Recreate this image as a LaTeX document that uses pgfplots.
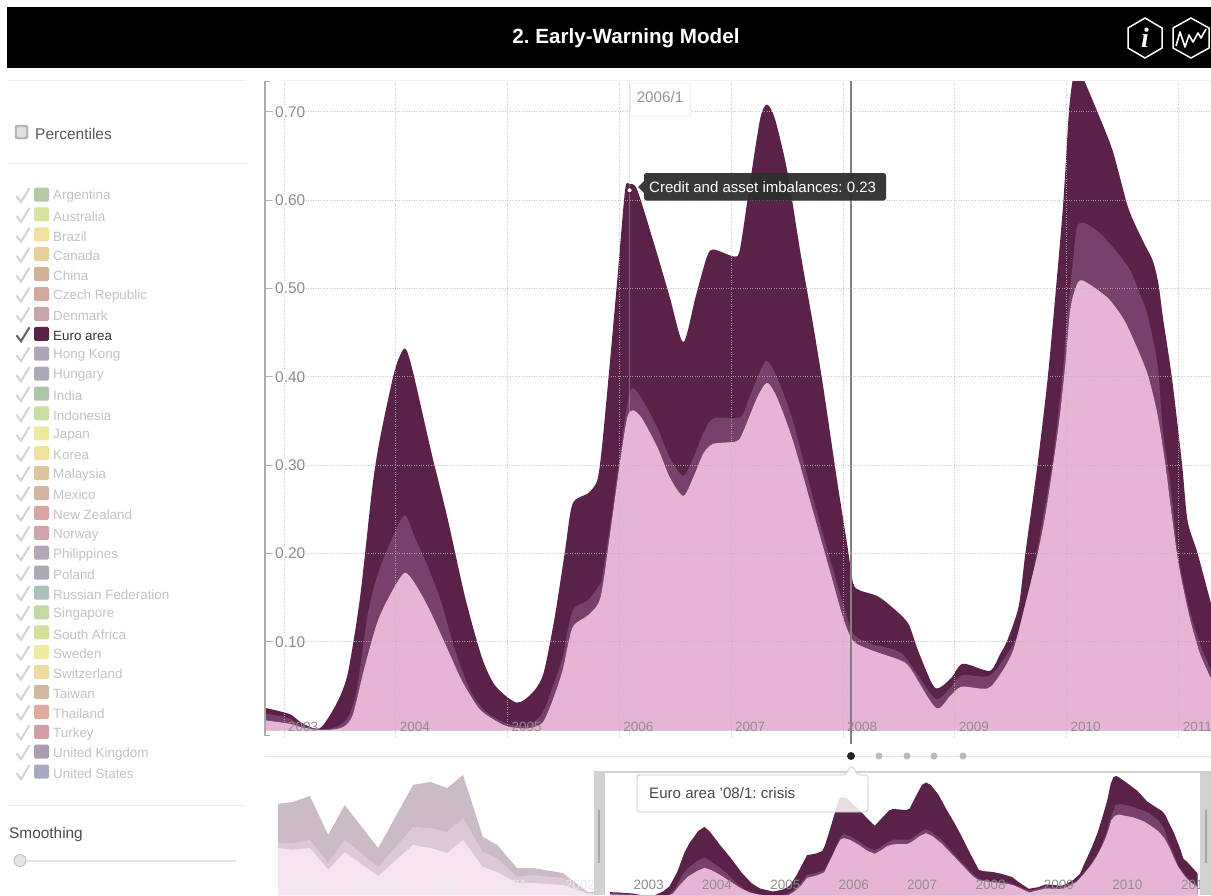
\documentclass[border=0pt]{standalone}
\usepackage{fontspec}
\setmainfont{Liberation Sans}
\newfontfamily\serifi{Liberation Serif}
\usepackage{pgfplots}
\usepackage{pgfplotstable}
\pgfplotsset{compat=1.18}
\definecolor{cDark}{HTML}{5A2248}
\definecolor{cMid}{HTML}{77416B}
\definecolor{cLight}{HTML}{E6B5D6}
\definecolor{fDark}{HTML}{CABBC7}
\definecolor{fMid}{HTML}{DACAD7}
\definecolor{fLight}{HTML}{F6E4F0}
\definecolor{cTick}{HTML}{8E8E8E}

\pgfplotstableread{
x y
2002.70 .027
2002.83 .025
2003.05 .018
2003.16 .008
2003.32 .002
2003.47 .030
2003.57 .064
2003.68 .150
2003.79 .275
2003.86 .331
2003.99 .407
2004.08 .432
2004.15 .407
2004.32 .313
2004.46 .241
2004.62 .150
2004.77 .082
2004.89 .050
2005.08 .031
2005.22 .042
2005.32 .064
2005.42 .127
2005.51 .200
2005.58 .256
2005.72 .268
2005.80 .282
2005.84 .316
2005.90 .396
2005.98 .509
2006.05 .611
2006.09 .618
2006.16 .611
2006.32 .546
2006.45 .490
2006.57 .439
2006.68 .490
2006.78 .535
2006.84 .544
2007.03 .536
2007.08 .546
2007.17 .622
2007.26 .693
2007.32 .708
2007.39 .692
2007.50 .633
2007.62 .539
2007.73 .460
2007.82 .390
2007.95 .279
2008.04 .207
2008.09 .166
2008.15 .158
2008.30 .152
2008.42 .141
2008.58 .121
2008.67 .090
2008.82 .048
2008.96 .058
2009.07 .075
2009.31 .067
2009.40 .085
2009.47 .102
2009.57 .140
2009.63 .200
2009.74 .302
2009.83 .399
2009.91 .509
2009.97 .599
2010.02 .701
2010.06 .741
2010.10 .749
2010.15 .737
2010.27 .701
2010.41 .656
2010.55 .591
2010.68 .554
2010.77 .531
2010.82 .505
2010.86 .467
2010.94 .399
2011.03 .302
2011.08 .237
2011.17 .200
2011.29 .143
}\darktop

\pgfplotstableread{
x y
2002.70 .021
2002.83 .019
2003.05 .013
2003.16 .005
2003.32 .001
2003.46 .003
2003.57 .014
2003.65 .045
2003.75 .132
2003.84 .177
2003.97 .218
2004.08 .243
2004.17 .218
2004.29 .184
2004.41 .143
2004.53 .090
2004.68 .041
2004.82 .019
2005.00 .007
2005.18 .005
2005.31 .019
2005.40 .048
2005.49 .082
2005.58 .135
2005.72 .147
2005.83 .166
2005.85 .177
2005.94 .252
2006.03 .336
2006.08 .376
2006.12 .387
2006.20 .375
2006.34 .342
2006.45 .308
2006.57 .288
2006.66 .308
2006.75 .336
2006.84 .353
2007.08 .354
2007.15 .373
2007.26 .407
2007.32 .418
2007.41 .399
2007.55 .350
2007.73 .263
2007.88 .195
2008.00 .143
2008.09 .109
2008.24 .098
2008.51 .088
2008.66 .064
2008.83 .035
2008.96 .048
2009.06 .062
2009.30 .061
2009.43 .079
2009.56 .107
2009.65 .143
2009.73 .200
2009.87 .302
2009.96 .399
2010.00 .464
2010.05 .524
2010.09 .569
2010.16 .574
2010.30 .562
2010.45 .541
2010.57 .520
2010.64 .498
2010.72 .471
2010.81 .415
2010.86 .339
2010.93 .275
2011.00 .195
2011.10 .135
2011.19 .098
2011.29 .067
}\midtop

\pgfplotstableread{
x y
2002.70 .013
2002.83 .011
2003.05 .007
2003.16 .003
2003.32 0
2003.46 .001
2003.55 .005
2003.62 .019
2003.72 .071
2003.84 .124
2003.97 .158
2004.08 .178
2004.17 .166
2004.29 .139
2004.44 .098
2004.59 .056
2004.74 .025
2004.86 .013
2005.00 .004
2005.18 .002
2005.31 .008
2005.40 .033
2005.49 .067
2005.58 .116
2005.72 .130
2005.83 .150
2005.92 .226
2006.01 .308
2006.07 .354
2006.12 .362
2006.20 .353
2006.34 .320
2006.45 .286
2006.57 .265
2006.66 .286
2006.75 .313
2006.84 .324
2007.05 .327
2007.11 .339
2007.23 .376
2007.32 .393
2007.41 .376
2007.55 .328
2007.73 .248
2007.88 .181
2008.00 .127
2008.09 .101
2008.24 .091
2008.51 .079
2008.60 .070
2008.83 .025
2008.96 .039
2009.06 .049
2009.29 .047
2009.40 .062
2009.52 .090
2009.63 .143
2009.74 .200
2009.81 .245
2009.88 .302
2009.94 .358
2009.99 .418
2010.03 .475
2010.08 .501
2010.14 .509
2010.36 .490
2010.50 .467
2010.59 .444
2010.72 .404
2010.81 .358
2010.88 .302
2010.93 .252
2011.00 .188
2011.10 .127
2011.19 .087
2011.29 .058
}\lighttop

\pgfplotstableread{
x d m l
1997.845 .575 .332 .301
1998.06 .587 .332 .289
1998.31 .624 .351 .301
1998.58 .382 .208 .165
1998.82 .568 .351 .276
1999.31 .301 .183 .127
1999.82 .693 .432 .320
2000.07 .711 .425 .301
2000.32 .674 .401 .270
2000.55 .755 .488 .351
2000.84 .370 .276 .183
2001.05 .320 .239 .152
2001.34 .177 .121 .084
2001.57 .177 .134 .084
2002.01 .146 .115 .071
2002.36 .030 .025 .020
2002.63 .025 .020 .012
}\history

\pgfplotsset{
  areafill/.style={draw=none,fill=#1},
}
\begin{document}
\frenchspacing
\begin{tikzpicture}
\path[use as bounding box,fill=white] (0pt,0pt) rectangle (1211pt,-895pt);

% MAIN CHART
\begin{axis}[
  at={(265pt,-736pt)},anchor=south west,
  scale only axis,width=946pt,height=655pt,
  xmin=2002.83,xmax=2011.29,ymin=-0.006793,ymax=0.734748,
  axis on top,
  axis x line*=bottom,axis y line*=left,
  x axis line style={draw=none,opacity=0},
  y axis line style={draw=black!33,line width=1.2pt},
  x tick style={draw=none},
  y tick style={draw=black!33,line width=.8pt},
  ytick align=inside,major tick length=7pt,
  xtick={2003,...,2011},
  xticklabels={2003,2004,2005,2006,2007,2008,2009,2010,2011},
  ytick={0.1,0.2,0.3,0.4,0.5,0.6,0.7},
  yticklabels={0.10,0.20,0.30,0.40,0.50,0.60,0.70},
  xticklabel style={font=\fontsize{13.5}{13.5}\selectfont,text=cTick,xshift=19pt,yshift=17pt},
  yticklabel style={anchor=west,xshift=9pt,font=\fontsize{15.5}{15.5}\selectfont,text=black!45,fill=white,inner sep=1pt},
  grid=major,
  major grid style={dotted,line width=.9pt,color=black!28,opacity=.75},
]
\addplot[areafill=cDark,smooth,tension=.45] table[x=x,y=y] {\darktop} \closedcycle;
\addplot[areafill=cMid,smooth,tension=.45] table[x=x,y=y] {\midtop} \closedcycle;
\addplot[areafill=cLight,smooth,tension=.45] table[x=x,y=y] {\lighttop} \closedcycle;
\addplot[black!25,line width=.5pt,opacity=.4,forget plot] coordinates {(2006.09,-0.0068) (2006.09,0.7347)};
\addplot[black!50,line width=1.1pt,forget plot] coordinates {(2008.07,-0.0068) (2008.07,0.7347)};
\addplot[only marks,mark=*,mark size=2.8pt,mark options={fill=white,draw=cDark,line width=1.2pt}] coordinates {(2006.09,0.611)};
\end{axis}

% MINI CHART, FADED PART
\begin{axis}[
  at={(278pt,-895pt)},anchor=south west,
  scale only axis,width=317pt,height=123pt,
  xmin=1997.845,xmax=2002.48,ymin=0.0093,ymax=0.773,
  axis on top,
  axis line style={draw=none},tick style={draw=none},
  xtick={1998,1999,2000,2001,2002},
  xticklabels={1998,1999,2000,2001,2002},
  ytick=\empty,
  xticklabel style={font=\fontsize{13.5}{13.5}\selectfont,text=black!8,xshift=18pt,yshift=18pt},
]
\addplot[areafill=fDark] table[x=x,y=d] {\history} \closedcycle;
\addplot[areafill=fMid] table[x=x,y=m] {\history} \closedcycle;
\addplot[areafill=fLight] table[x=x,y=l] {\history} \closedcycle;
\end{axis}

% MINI CHART, SELECTED PART
\begin{axis}[
  at={(605pt,-895pt)},anchor=south west,
  scale only axis,width=595pt,height=123pt,
  xmin=2002.626,xmax=2011.325,ymin=0.0093,ymax=0.773,
  axis on top,
  axis line style={draw=none},tick style={draw=none},
  xtick={2003,...,2011},
  xticklabels={2003,2004,2005,2006,2007,2008,2009,2010,2011},
  ytick=\empty,
  xticklabel style={font=\fontsize{13.5}{13.5}\selectfont,text=cTick,xshift=18pt,yshift=18pt},
]
\addplot[areafill=cDark] table[x=x,y=y] {\darktop} \closedcycle;
\addplot[areafill=cMid] table[x=x,y=y] {\midtop} \closedcycle;
\addplot[areafill=cLight] table[x=x,y=y] {\lighttop} \closedcycle;
\end{axis}

\begin{scope}[x=1pt,y=-1pt]
% header
\fill[black] (7,7) rectangle (1211,68);
\node[text=white,font=\fontsize{20.6}{20.6}\selectfont\bfseries,inner sep=0] at (626,38.5) {2. Early-Warning Model};
\draw[white,line width=1.5pt] (1145,18)--(1162,28)--(1162,48)--(1145,58)--(1128,48)--(1128,28)--cycle;
\node[text=white,font=\serifi\fontsize{28}{28}\selectfont\bfseries\itshape,inner sep=0] at (1145,38) {i};
\draw[white,line width=1.5pt] (1191,18)--(1209,28)--(1209,48)--(1191,58)--(1173,48)--(1173,28)--cycle;
\draw[white,line width=1.6pt,line join=round] (1176,46)--(1180,32)--(1185,47)--(1189,35)--(1193,42)--(1198,33)--(1201,38)--(1206,29);

% separators
\draw[black!8,line width=1pt] (8,80)--(245,80);
\draw[black!8,line width=1pt] (8,163)--(247,163);
\draw[black!8,line width=1pt] (8,805)--(245,805);
\draw[black!10,line width=1pt] (265,756)--(1211,756);
\draw[black!5,line width=.6pt] (280,80)--(1211,80);

% axis caps
\draw[black!33,line width=.8pt] (265,81.5)--(270,81.5);
\draw[black!33,line width=.8pt] (265,735)--(270,735);
\draw[black!50,line width=1.1pt] (851,736)--(851,744);

% percentiles
\fill[black!28,rounded corners=2.5pt,draw=black!35] (15,125) rectangle (28,139);
\fill[black!12,rounded corners=2pt] (17,127) rectangle (26,137);
\node[anchor=west,inner sep=0,text=black!65,font=\fontsize{15.5}{15.5}\selectfont] at (35,134) {Percentiles};

% country list
\foreach \n/\hex [count=\i from 0] in {
  Argentina/B4C9A6,Australia/D7E3A1,Brazil/EFE39B,Canada/E8CF97,China/CFB298,
  Czech Republic/D2A99E,Denmark/C9A3AA,Euro area/5A2248,Hong Kong/ADA5B9,Hungary/ABAAB9,
  India/ACC5A9,Indonesia/CADEA1,Japan/ECE9A1,Korea/EFE29D,Malaysia/DCC79D,
  Mexico/D5B4A1,New Zealand/D8A4A4,Norway/CFA4AD,Philippines/B3A6B9,Poland/AAA9B6,
  Russian Federation/AAC2B9,Singapore/C4D8A1,South Africa/D3E09D,Sweden/F0EB9F,Switzerland/ECDB9D,
  Taiwan/CDBAA0,Thailand/E0AB9C,Turkey/CF9FA4,United Kingdom/AC9CB1,United States/A9A9C0}{
  \pgfmathsetmacro{\yy}{196+19.9*\i}
  \definecolor{swatch}{HTML}{\hex}
  \ifnum\i=7
    \def\tc{black!80}\def\cc{black!60}
  \else
    \def\tc{black!24}\def\cc{black!17}
  \fi
  \draw[\cc,line width=2.1pt,line join=miter] (16.5,\yy)--(21,\yy+6)--(29.5,\yy-8);
  \fill[swatch,rounded corners=1.5pt] (34,\yy-8.5) rectangle (49,\yy+5.5);
  \node[anchor=west,inner sep=0,text=\tc,font=\fontsize{13.4}{13.4}\selectfont] at (53,\yy+0.5) {\n};
}

% smoothing slider
\node[anchor=west,inner sep=0,text=black!70,font=\fontsize{15.4}{15.4}\selectfont] at (9,835) {Smoothing};
\draw[black!10,line width=2pt] (20,861)--(236,861);
\draw[black!28,fill=black!10,line width=.8pt] (20,860.5) circle (6);

% nav dots
\fill[black!85] (851,756) circle (4);
\foreach \xx in {879,907,934,963} \fill[black!27] (\xx,756) circle (3.5);

% brush
\draw[black!18,line width=2pt] (595,772)--(1211,772);
\fill[black!18] (594,771) rectangle (605,895);
\fill[black!18] (1200,771) rectangle (1211,895);
\fill[black!35] (598,810) rectangle (600,863);
\fill[black!35] (1205,810) rectangle (1207,863);

% 2006/1 flag
\draw[black!6,fill=white,line width=.7pt] (630,83) rectangle (690,116);
\node[inner sep=0,text=black!42,font=\fontsize{15.2}{15.2}\selectfont] at (660,97) {2006/1};

% tooltip dark
\fill[black!82,opacity=.95,rounded corners=2.5pt] (644,173) rectangle (886,200.5);
\fill[black!82,opacity=.95] (644,181)--(638,187)--(644,193)--cycle;
\node[anchor=west,inner sep=0,text=white,font=\fontsize{15}{15}\selectfont] at (649,187) {Credit and asset imbalances: 0.23};

% event box
\draw[black!22,line width=.7pt,fill=white,fill opacity=.85,rounded corners=3pt]
   (640,775)--(845,775)--(851.5,765)--(858,775)--(868,775)--(868,812)--(637,812)--(637,775)--cycle;
\node[anchor=west,inner sep=0,text=black!72,font=\fontsize{15.1}{15.1}\selectfont] at (649,793) {Euro area '08/1: crisis};
\end{scope}
\end{tikzpicture}
\end{document}
